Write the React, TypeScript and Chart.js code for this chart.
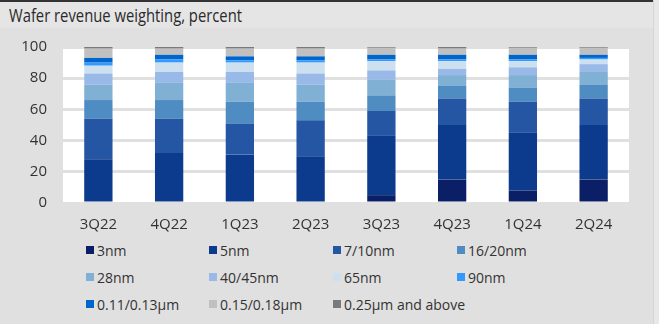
import React, { useEffect, useRef } from "react";
import { Chart, registerables } from "chart.js";

Chart.register(...registerables);

const categories = ["3Q22", "4Q22", "1Q23", "2Q23", "3Q23", "4Q23", "1Q24", "2Q24"];
const yTicks = [0, 20, 40, 60, 80, 100];

const s3nm = [0, 0, 0, 0, 5, 15, 8, 15];
const s5nm = [28, 32, 31, 30, 38, 35, 37, 35];
const s7_10nm = [26, 22, 20, 23, 16, 17, 20, 17];
const s16_20nm = [12, 12, 14, 12, 10, 8, 9, 9];
const s28nm = [10, 11, 12, 11, 10, 7, 8, 8];
const s40_45nm = [7, 7, 7, 7, 6, 4, 5, 5];
const s65nm = [5, 6, 6, 7, 6, 5, 4, 3];
const s90nm = [2, 2, 1.5, 1.5, 1, 1, 1, 1];
const s011_013 = [3, 3, 2.5, 2.5, 3, 3, 3, 2];
const s015_018 = [6, 4, 5, 5, 4.5, 4, 4.5, 4.5];
const s025up = [1, 1, 1, 1, 0.5, 1, 0.5, 0.5];

const seriesLabels = [
  "3nm", "5nm", "7/10nm", "16/20nm",
  "28nm", "40/45nm", "65nm", "90nm",
  "0.11/0.13µm", "0.15/0.18µm", "0.25µm and above",
];
const seriesData = [s3nm, s5nm, s7_10nm, s16_20nm, s28nm, s40_45nm, s65nm, s90nm, s011_013, s015_018, s025up];
const seriesColors = [
  "#0b1f66", "#0c3a8c", "#2456a4", "#4f8cc2",
  "#80b1d5", "#99b9e9", "#cde0ef", "#3399ff",
  "#0066cc", "#c0c0c0", "#7a7a7a",
];

const FONT = "'Open Sans', 'Noto Sans', sans-serif";
const TEXT = "#333333";

const plotBg = {
  id: "plotBg",
  beforeDraw(chart: any) {
    const { ctx, chartArea } = chart;
    ctx.save();
    ctx.fillStyle = "#ffffff";
    ctx.fillRect(chartArea.left, chartArea.top, chartArea.right - chartArea.left, chartArea.bottom - chartArea.top);
    ctx.restore();
  },
};

export default function App() {
  const ref = useRef<HTMLCanvasElement | null>(null);

  useEffect(() => {
    if (!ref.current) return;
    const chart = new Chart(ref.current, {
      type: "bar",
      data: {
        labels: categories,
        datasets: seriesLabels.map((label, i) => ({
          label,
          data: seriesData[i],
          backgroundColor: seriesColors[i],
          borderWidth: 0,
          categoryPercentage: 0.8,
          barPercentage: 0.5,
        })),
      },
      options: {
        animation: false,
        responsive: false,
        maintainAspectRatio: false,
        layout: { padding: { left: 0, right: 30, top: 47, bottom: 0 } },
        plugins: { legend: { display: false }, tooltip: { enabled: false }, title: { display: false } },
        scales: {
          x: {
            stacked: true,
            grid: { display: false, drawTicks: false },
            border: { display: false },
            ticks: { color: TEXT, font: { family: FONT, size: 15 }, padding: 13, maxRotation: 0 },
            afterFit(scale: any) { scale.height = 37; },
          },
          y: {
            stacked: true,
            min: 0,
            max: 100,
            afterBuildTicks(scale: any) { scale.ticks = yTicks.map((v) => ({ value: v })); },
            grid: { color: "#e0e0e0", lineWidth: 3, drawTicks: false },
            border: { display: false },
            ticks: { color: TEXT, font: { family: FONT, size: 15 }, padding: 16 },
            afterFit(scale: any) { scale.width = 63; },
          },
        },
      },
      plugins: [plotBg],
    });
    return () => chart.destroy();
  }, []);

  const cols = [86, 209, 333, 457];
  const rows = [250, 277, 304];

  return (
    <div style={{ position: "absolute", left: 0, top: 0, width: 659, height: 324, background: "#e0e0e0", overflow: "hidden", fontFamily: FONT, color: TEXT }}>
      <div style={{ position: "absolute", left: 0, top: 0, width: 653, height: 28, background: "#e5e5e5" }} />
      <div style={{ position: "absolute", left: 0, top: 0, width: 653, height: 2, background: "#333333" }} />
      <div style={{ position: "absolute", left: 653, top: 0, width: 6, height: 324, background: "#e8e8e8", borderLeft: "1px solid #d6d6d6" }} />
      <div style={{ position: "absolute", left: 9, top: 3, fontSize: 18.5, fontWeight: 400, lineHeight: "24px", whiteSpace: "nowrap", color: "#2a2a2a", transform: "scaleX(0.8)", transformOrigin: "0 0" }}>
        Wafer revenue weighting, percent
      </div>
      <canvas ref={ref} width={659} height={240} style={{ position: "absolute", left: 0, top: 0, width: 659, height: 240 }} />
      {seriesLabels.map((label, i) => {
        const r = Math.floor(i / 4);
        const c = i % 4;
        return (
          <div key={label} style={{ position: "absolute", left: cols[c], top: rows[r] - 10, height: 20, display: "flex", alignItems: "center", whiteSpace: "nowrap", fontSize: 14 }}>
            <span style={{ display: "inline-block", width: 8, height: 8, background: seriesColors[i], marginRight: 3 }} />
            <span>{label}</span>
          </div>
        );
      })}
    </div>
  );
}
